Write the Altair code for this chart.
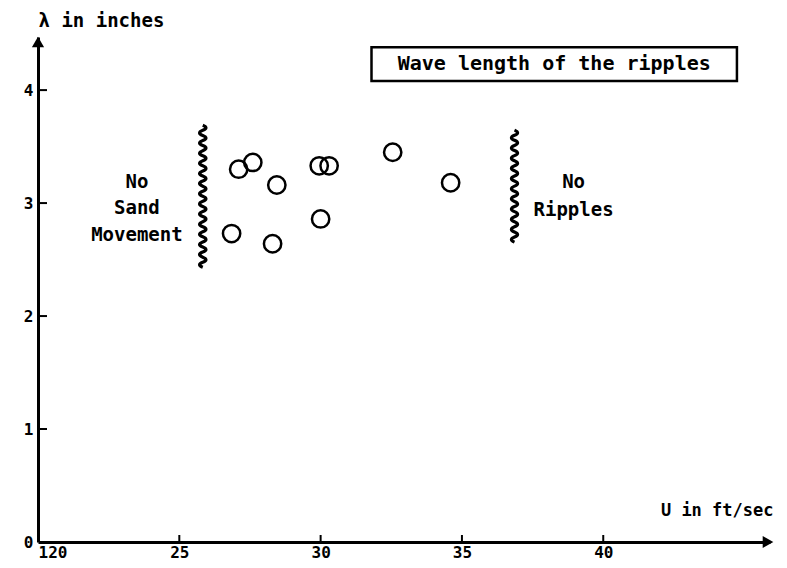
import altair as alt
import pandas as pd

# ---- data ----
u_vals = [26.85, 27.1, 27.6, 28.45, 28.3, 29.95, 30.3, 30.0, 32.55, 34.6]
lam_vals = [2.73, 3.30, 3.36, 3.16, 2.64, 3.33, 3.33, 2.86, 3.45, 3.18]

x_ticks = [20, 25, 30, 35, 40]
y_ticks = [0, 1, 2, 3, 4]
x_end = 45.9
y_end = 4.47

# boundaries (wavy lines): x position, centre of line
bound_left = {"u": 25.83, "lam": 3.06}
bound_right = {"u": 36.86, "lam": 3.15}

notes_x = [23.5, 23.5, 23.5, 38.95, 38.95]
notes_y = [3.19, 2.96, 2.72, 3.19, 2.94]
notes_txt = ["No", "Sand", "Movement", "No", "Ripples"]

title_txt = "Wave length of the ripples"
box_x = [31.8, 44.73]
box_y = [4.08, 4.38]

FONT = "DejaVu Sans Mono"
W, H = 732, 505

pts = pd.DataFrame({"u": u_vals, "lam": lam_vals})


def wave(n_half, amp):
    h = 2.0 / n_half
    parts = ["M0,-1"]
    y = -1.0
    for i in range(n_half):
        s = 1 if i % 2 == 0 else -1
        parts.append(f"Q{s * amp:.3f},{y + h / 2:.3f} 0,{y + h:.3f}")
        y += h
    return " ".join(parts)


xs = alt.Scale(domain=[20, x_end], nice=False, zero=False)
ys = alt.Scale(domain=[0, y_end], nice=False, zero=False)

xaxis = alt.Axis(
    values=x_ticks, ticks=False, domainWidth=3, domainColor="black",
    labelFont=FONT, labelFontSize=16, labelFontWeight="bold", labelColor="black",
    labelPadding=2,
    labelExpr="datum.value == 20 ? '120' : datum.label",
    labelAlign={"condition": {"test": "datum.value == 20", "value": "left"}, "value": "center"},
    grid=False, title="U in ft/sec", titleFont=FONT, titleFontSize=17,
    titleFontWeight="bold", titleColor="black", titleAlign="right",
    titleX=735, titleY=-32, titleBaseline="middle", titleAnchor="end",
    labelFlush=False,
)
yaxis = alt.Axis(
    values=y_ticks, ticks=False, domainWidth=3, domainColor="black", format="d",
    labelFont=FONT, labelFontSize=16, labelFontWeight="bold", labelColor="black",
    labelPadding=5,
    grid=False, title="λ in inches", titleFont=FONT, titleFontSize=19,
    titleFontWeight="bold", titleColor="black", titleAngle=0,
    titleAlign="left", titleX=0, titleY=-17, titleBaseline="middle",
    labelFlush=False,
)

base = alt.Chart(pts)

circles = base.mark_point(shape="circle", filled=False, size=300,
                          strokeWidth=2.5, color="black", opacity=1).encode(
    x=alt.X("u:Q", scale=xs, axis=xaxis),
    y=alt.Y("lam:Q", scale=ys, axis=yaxis),
)

wl = alt.Chart(pd.DataFrame([bound_left])).mark_point(
    shape=wave(28, 0.09), filled=False, size=142 ** 2, strokeWidth=3.2,
    color="black", opacity=1).encode(x=alt.X("u:Q", scale=xs), y=alt.Y("lam:Q", scale=ys))
wr = alt.Chart(pd.DataFrame([bound_right])).mark_point(
    shape=wave(22, 0.11), filled=False, size=112 ** 2, strokeWidth=3.2,
    color="black", opacity=1).encode(x=alt.X("u:Q", scale=xs), y=alt.Y("lam:Q", scale=ys))

notes = alt.Chart(pd.DataFrame({"u": notes_x, "lam": notes_y, "t": notes_txt})).mark_text(
    font=FONT, fontSize=19, fontWeight="bold", align="center",
    baseline="middle", color="black").encode(
    x=alt.X("u:Q", scale=xs), y=alt.Y("lam:Q", scale=ys), text="t:N")

box = alt.Chart(pd.DataFrame({"x1": [box_x[0]], "x2": [box_x[1]],
                              "y1": [box_y[0]], "y2": [box_y[1]]})).mark_rect(
    fill="white", stroke="black", strokeWidth=2.5).encode(
    x=alt.X("x1:Q", scale=xs), x2="x2:Q", y=alt.Y("y1:Q", scale=ys), y2="y2:Q")

title = alt.Chart(pd.DataFrame({"u": [(box_x[0] + box_x[1]) / 2],
                                "lam": [(box_y[0] + box_y[1]) / 2],
                                "t": [title_txt]})).mark_text(
    font=FONT, fontSize=20, fontWeight="bold", color="black",
    align="center", baseline="middle").encode(
    x=alt.X("u:Q", scale=xs), y=alt.Y("lam:Q", scale=ys), text="t:N")

yt = alt.Chart(pd.DataFrame({"v": y_ticks[1:]})).mark_rule(
    color="black", strokeWidth=2).encode(
    y=alt.Y("v:Q", scale=ys), x=alt.value(0), x2=alt.value(9))
xt = alt.Chart(pd.DataFrame({"v": x_ticks[1:]})).mark_rule(
    color="black", strokeWidth=2).encode(
    x=alt.X("v:Q", scale=xs), y=alt.value(H), y2=alt.value(H - 7))

arr_up = alt.Chart(pd.DataFrame({"u": [20], "lam": [y_end]})).mark_point(
    shape="triangle-up", filled=True, size=150, color="black", opacity=1,
    yOffset=5).encode(x=alt.X("u:Q", scale=xs), y=alt.Y("lam:Q", scale=ys))
arr_rt = alt.Chart(pd.DataFrame({"u": [x_end], "lam": [0]})).mark_point(
    shape="triangle-right", filled=True, size=150, color="black", opacity=1,
    xOffset=-2).encode(x=alt.X("u:Q", scale=xs), y=alt.Y("lam:Q", scale=ys))

chart = alt.layer(circles, wl, wr, notes, box, title, yt, xt, arr_up, arr_rt).properties(
    width=W, height=H,
    autosize=alt.AutoSizeParams(type="none"),
    padding={"left": 30, "top": 29, "right": 9, "bottom": 18},
).configure_view(stroke=None)

chart.save("out.html", embed_options={"renderer": "svg", "actions": False})
